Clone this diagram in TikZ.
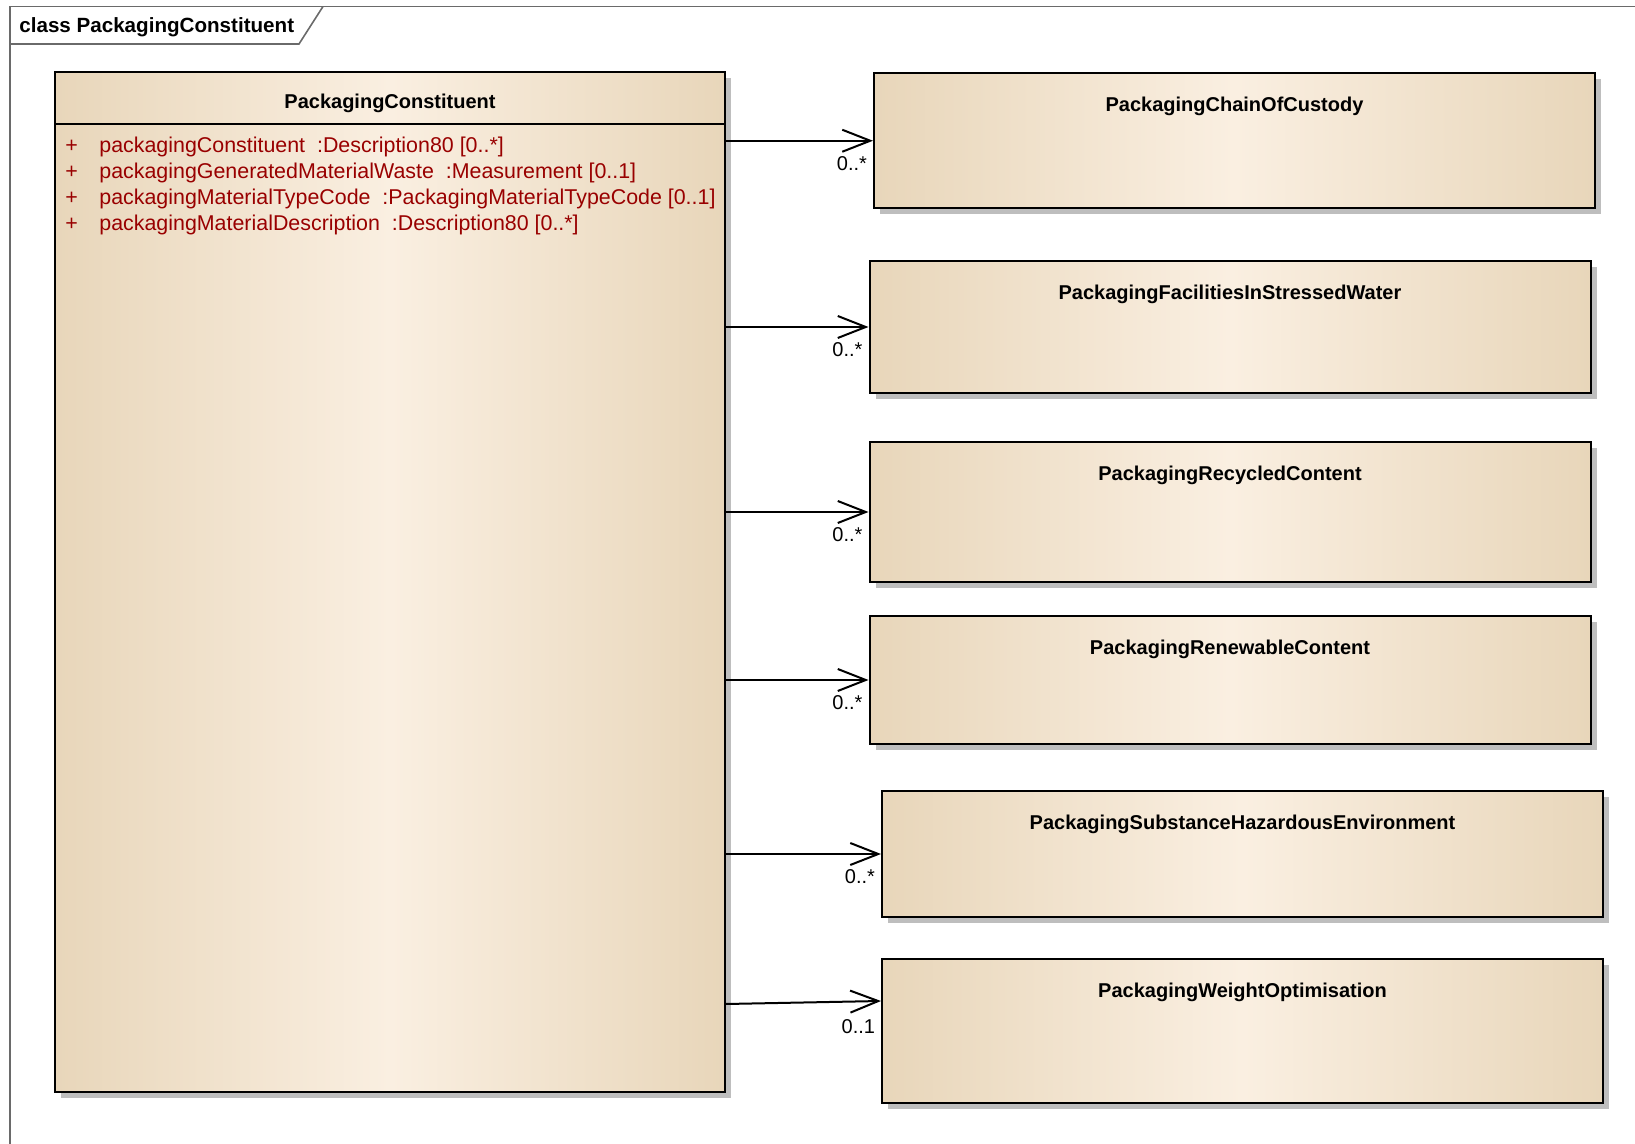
\documentclass[tikz,border=0pt]{standalone}
\usepackage{fontspec}
\setmainfont{Liberation Sans}
\usetikzlibrary{arrows.meta,positioning,shadows,calc}
\definecolor{tanedge}{HTML}{E8D6BA}
\definecolor{tanmid}{HTML}{FAEFE1}
\definecolor{attrred}{HTML}{990000}
\definecolor{shadowgray}{HTML}{BEBEBE}
\definecolor{framegray}{HTML}{6A6A6A}

\begin{document}
\begin{tikzpicture}[
 x=0.5pt,y=-0.5pt,
 font=\fontsize{10}{12}\selectfont,
 cls/.style={draw=black,line width=1pt,left color=tanedge,right color=tanedge,middle color=tanmid,
   general shadow={fill=shadowgray,shadow xshift=3pt,shadow yshift=-3pt},
   anchor=north west,inner sep=0pt,minimum width=360.5pt},
 clstitle/.style={font=\fontsize{10}{12}\selectfont\bfseries,inner sep=0pt},
 attr/.style={text=attrred,anchor=west,inner sep=0pt,font=\fontsize{10.7}{12}\selectfont},
 assoc/.style={-{Straight Barb[length=14pt,width=11pt,line width=1pt]},line width=1pt},
 mult/.style={anchor=east,inner sep=0pt,xshift=-2.5pt,yshift=-11.5pt}
]
\useasboundingbox (0,0) rectangle (1635,1144);
% diagram frame
\draw[framegray,line width=0.8pt] (10,1144) -- (10,6.5) -- (1635,6.5);
\draw[framegray,line width=0.8pt] (10,44) -- (299,44) -- (323,6.5);
\node[clstitle,anchor=west,font=\fontsize{10.3}{12}\selectfont\bfseries] (frametitle) at (19,27) {class PackagingConstituent};

% main class
\node[cls,minimum width=335pt,minimum height=510pt] (constituent) at (54,71) {};
\node[clstitle,below=11.5pt of constituent.north] (constituenttitle) {PackagingConstituent};
\draw[line width=1pt] ([yshift=-26.5pt]constituent.north west) -- ([yshift=-26.5pt]constituent.north east);
\node[attr] (attrA) at (65,147) {\makebox[17pt][l]{+}packagingConstituent~ :Description80 [0..*]};
\node[attr] (attrB) at (65,173) {\makebox[17pt][l]{+}packagingGeneratedMaterialWaste~ :Measurement [0..1]};
\node[attr] (attrC) at (65,199) {\makebox[17pt][l]{+}packagingMaterialTypeCode~ :PackagingMaterialTypeCode [0..1]};
\node[attr] (attrD) at (65,225) {\makebox[17pt][l]{+}packagingMaterialDescription~ :Description80 [0..*]};

% associated classes
\node[cls,minimum height=67.75pt] (chain) at (873,72) {};
\node[clstitle,below=12.5pt of chain.north] (chaintitle) {PackagingChainOfCustody};
\node[cls,minimum height=66pt] (facilities) at (868.5,260) {};
\node[clstitle,below=12.5pt of facilities.north] (facilitiestitle) {PackagingFacilitiesInStressedWater};
\node[cls,minimum height=70pt] (recycled) at (868.5,441) {};
\node[clstitle,below=12.5pt of recycled.north] (recycledtitle) {PackagingRecycledContent};
\node[cls,minimum height=64pt] (renewable) at (868.5,615) {};
\node[clstitle,below=12.5pt of renewable.north] (renewabletitle) {PackagingRenewableContent};
\node[cls,minimum height=63pt] (hazardous) at (881,790) {};
\node[clstitle,below=12.5pt of hazardous.north] (hazardoustitle) {PackagingSubstanceHazardousEnvironment};
\node[cls,minimum height=72pt] (weight) at (881,958) {};
\node[clstitle,below=12.5pt of weight.north] (weighttitle) {PackagingWeightOptimisation};

% associations
\draw[assoc] (constituent.east |- chain.west) -- (chain.west) node[mult] {0..*};
\draw[assoc] (constituent.east |- facilities.west) -- (facilities.west) node[mult] {0..*};
\draw[assoc] (constituent.east |- recycled.west) -- (recycled.west) node[mult] {0..*};
\draw[assoc] (constituent.east |- renewable.west) -- (renewable.west) node[mult] {0..*};
\draw[assoc] (constituent.east |- hazardous.west) -- (hazardous.west) node[mult] {0..*};
\draw[assoc] ($(constituent.east |- weight.west)+(0,-27)$) -- ([yshift=15pt]weight.west) node[mult,yshift=-1.5pt] {0..1};
\end{tikzpicture}
\end{document}
